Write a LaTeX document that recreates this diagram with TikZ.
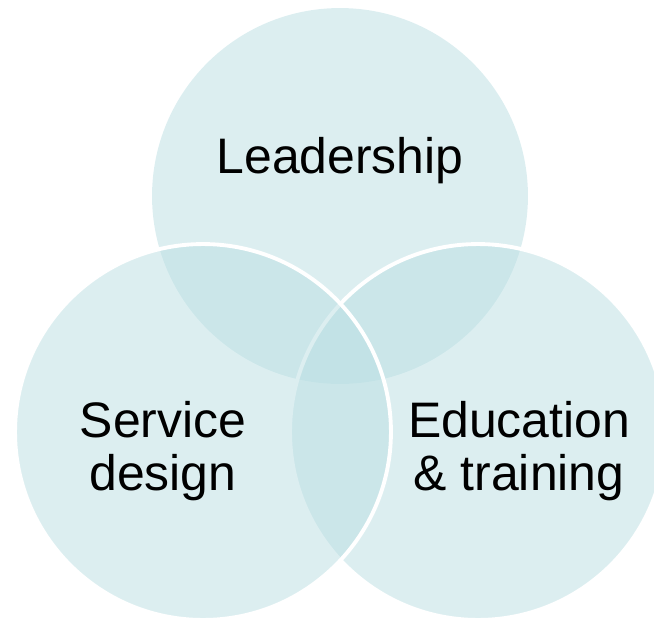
\documentclass[tikz,border=0pt]{standalone}
\usepackage{fontspec}
\setmainfont{Liberation Sans}
\definecolor{vennfill}{RGB}{186,222,226}
\begin{document}
\begin{tikzpicture}[x=0.02cm,y=-0.02cm,
  venn/.style={circle,inner sep=0pt,outer sep=0pt,minimum size=7.52cm,
    fill=vennfill,fill opacity=0.5},
  vennline/.style={venn,draw=white,draw opacity=1,line width=2.2pt},
  label/.style={font=\fontsize{28.4}{30}\selectfont,align=center,text=black,inner sep=0pt}]
  \useasboundingbox (0,0) rectangle (654,620);
  % three overlapping circles, the left one on top
  \node[venn] (cTop) at (340,196) {};
  \node[vennline] (cRight) at (478,432) {};
  \node[vennline] (cLeft) at (203,432) {};
  % labels
  \node[label] (lead) at (340,161) {Leadership};
  \node[label] (serv) at (163,451) {Service\\design};
  \node[label] (edu) at (519,451) {Education\\\& training};
\end{tikzpicture}
\end{document}
